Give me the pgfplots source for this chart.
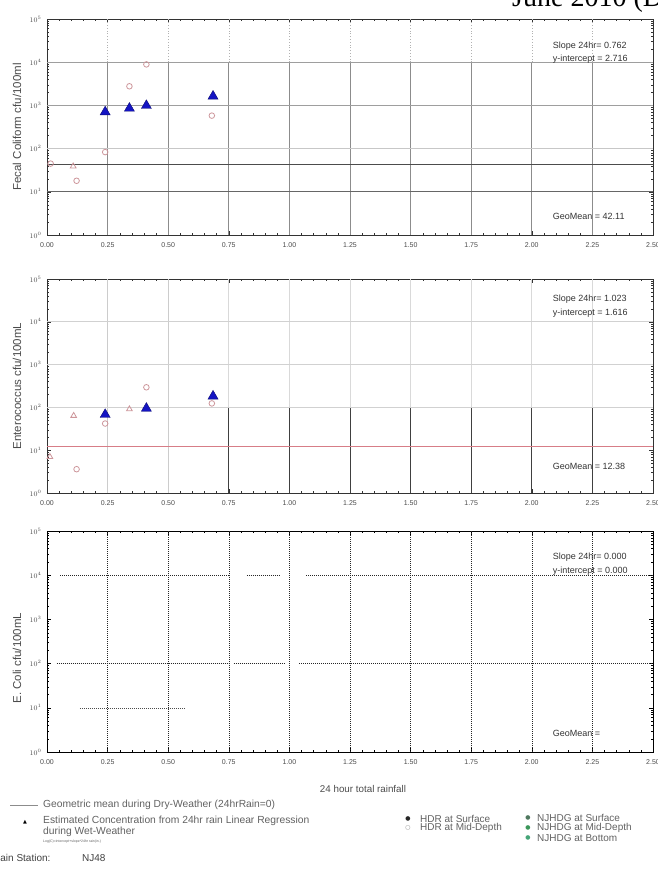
\documentclass[border=0pt]{standalone}
\usepackage{fontspec}
\setmainfont{Liberation Sans}
\newfontfamily\seriffont{Liberation Serif}
\newfontfamily\symfont{DejaVu Sans}
\usepackage{pgfplots}
\pgfplotsset{compat=1.18}

\definecolor{pinkc}{RGB}{205,150,155}
\definecolor{bluet}{RGB}{20,20,195}
\definecolor{redg}{RGB}{215,125,135}
\definecolor{txtg}{RGB}{75,75,75}
\definecolor{greenA}{RGB}{80,120,95}
\definecolor{greenB}{RGB}{60,150,90}
\definecolor{greenC}{RGB}{70,165,120}

\pgfplotsset{
 mypanel/.style={
  scale only axis, width=606pt, anchor=south west,
  xmin=0, xmax=2.5,
  xtick={0,0.25,0.5,0.75,1,1.25,1.5,1.75,2,2.25,2.5},
  xticklabels={0.00,0.25,0.50,0.75,1.00,1.25,1.50,1.75,2.00,2.25,2.50},
  minor x tick num=4,
  ytick={1,10,100,1000,10000,100000},
  tick align=inside,
  major tick length=4pt, minor tick length=2pt,
  every tick/.style={black!80, line width=0.4pt},
  axis line style={black!80, line width=0.6pt},
  x tick label style={font=\fontsize{7}{7}\selectfont, text=txtg, yshift=-4pt},
  y tick label style={font=\fontsize{7}{7}\selectfont, text=txtg, xshift=-2pt},
 },
 ylab/.style={every axis y label/.style={at={(axis description cs:-0.0495,#1)}, rotate=90, anchor=center,
   font=\fontsize{11.5}{11.5}\selectfont, text=txtg}},
 bluetri/.style={only marks, mark=triangle*, mark size=5.8pt, mark options={fill=bluet, draw=bluet!60!black, line width=0.4pt}},
 pinko/.style={only marks, mark=o, mark size=2.8pt, mark options={draw=pinkc, line width=0.8pt}},
 pinkt/.style={only marks, mark=triangle, mark size=3.3pt, mark options={draw=pinkc, line width=0.8pt}},
}

\begin{document}
\begin{tikzpicture}
% ---------------- Panel 1: Fecal Coliform ----------------
\begin{axis}[ymode=log, ymin=1, ymax=1e5, mypanel, height=216pt, at={(47pt,-235pt)},
  ylabel={Fecal Coliform cfu/100ml}, ylab=0.5]
\pgfplotsinvokeforeach{0.25,0.5,0.75,1,1.25,1.5,1.75,2,2.25}{
  \draw[black!45, line width=0.8pt] (axis cs:#1,1) -- (axis cs:#1,1e4);
  \draw[black!30, dash pattern=on 0.8pt off 2pt] (axis cs:#1,1e4) -- (axis cs:#1,1e5);
}
\draw[black!60, line width=0.9pt] (axis cs:0,10) -- (axis cs:2.5,10);
\draw[black!22, line width=0.8pt] (axis cs:0,100) -- (axis cs:2.5,100);
\draw[black!38, line width=0.8pt] (axis cs:0,1000) -- (axis cs:2.5,1000);
\draw[black!38, line width=0.8pt] (axis cs:0,10000) -- (axis cs:2.5,10000);
\addplot[black!70, line width=1.3pt] coordinates {(0,42.11) (2.5,42.11)};
\addplot[pinko] coordinates {(0.015,45) (0.122,18) (0.24,83) (0.34,2770) (0.41,8900) (0.68,580)};
\addplot[pinkt] coordinates {(0.108,39)};
\addplot[bluetri] coordinates {(0.24,705) (0.34,855) (0.41,990) (0.685,1630)};
\end{axis}

% ---------------- Panel 2: Enterococcus ----------------
\begin{axis}[ymode=log, ymin=1, ymax=1e5, mypanel, height=214pt, at={(47pt,-493pt)},
  ylabel={Enterococcus cfu/100mL}, ylab=0.5]
\pgfplotsinvokeforeach{0.25,0.5}{
  \draw[black!20, line width=0.7pt] (axis cs:#1,1) -- (axis cs:#1,1e5);
}
\pgfplotsinvokeforeach{0.75,1,1.25,1.5,1.75,2,2.25}{
  \draw[black!15, line width=0.7pt] (axis cs:#1,100) -- (axis cs:#1,1e5);
  \draw[black!75, line width=0.9pt] (axis cs:#1,1) -- (axis cs:#1,100);
}
\draw[black!18, line width=0.8pt] (axis cs:0,100) -- (axis cs:2.5,100);
\draw[black!18, line width=0.8pt] (axis cs:0,1000) -- (axis cs:2.5,1000);
\draw[black!18, line width=0.8pt] (axis cs:0,10000) -- (axis cs:2.5,10000);
\addplot[redg, line width=1pt] coordinates {(0,12.38) (2.5,12.38)};
\addplot[pinko] coordinates {(0.24,42) (0.41,295) (0.68,124) (0.122,3.6)};
\addplot[pinkt] coordinates {(0.11,64) (0.34,91) (0.012,7)};
\addplot[bluetri] coordinates {(0.24,68) (0.41,95) (0.685,183)};
\end{axis}

% ---------------- Panel 3: E. Coli ----------------
\begin{axis}[ymode=log, ymin=1, ymax=1e5, mypanel, height=221pt, at={(47pt,-752pt)},
  ylabel={E. Coli cfu/100mL}, ylab=0.425,
  axis line style={black, line width=0.6pt}, every tick/.style={black, line width=0.4pt}]
\pgfplotsinvokeforeach{0.25,0.5,0.75,1,1.25,1.5,1.75,2,2.25}{
  \draw[black!85, line width=0.55pt, dash pattern=on 0.8pt off 1.2pt] (axis cs:#1,1) -- (axis cs:#1,1e5);
}
\draw[black!85, line width=0.55pt, dash pattern=on 0.8pt off 1.2pt] (axis cs:0.055,10000) -- (axis cs:0.755,10000);
\draw[black!85, line width=0.55pt, dash pattern=on 0.8pt off 1.2pt] (axis cs:0.825,10000) -- (axis cs:0.96,10000);
\draw[black!85, line width=0.55pt, dash pattern=on 0.8pt off 1.2pt] (axis cs:1.07,10000) -- (axis cs:2.5,10000);
\draw[black!85, line width=0.55pt, dash pattern=on 0.8pt off 1.2pt] (axis cs:0.04,100) -- (axis cs:0.75,100);
\draw[black!85, line width=0.55pt, dash pattern=on 0.8pt off 1.2pt] (axis cs:0.77,100) -- (axis cs:0.98,100);
\draw[black!85, line width=0.55pt, dash pattern=on 0.8pt off 1.2pt] (axis cs:1.04,100) -- (axis cs:2.5,100);
\draw[black!70, line width=0.5pt, dash pattern=on 0.8pt off 1.2pt] (axis cs:0.136,10) -- (axis cs:0.57,10);
\end{axis}

% ---------------- Texts ----------------
\node[anchor=base west, font=\seriffont\fontsize{28}{28}\selectfont, inner sep=0pt] at (512pt,-6.5pt) {June 2010 (D};

\begin{scope}[every node/.style={anchor=west, font=\fontsize{9}{9}\selectfont, text=black!80, inner sep=0pt}]
\node at (552.7pt,-45.7pt) {Slope 24hr= 0.762};
\node at (552.7pt,-59pt) {y-intercept = 2.716};
\node at (552.7pt,-216.7pt) {GeoMean = 42.11};
\node at (552.7pt,-299.3pt) {Slope 24hr= 1.023};
\node at (552.7pt,-312.7pt) {y-intercept = 1.616};
\node at (552.7pt,-466.7pt) {GeoMean = 12.38};
\node at (552.7pt,-556.7pt) {Slope 24hr= 0.000};
\node at (552.7pt,-570.7pt) {y-intercept = 0.000};
\node at (552.7pt,-733.3pt) {GeoMean =};
\end{scope}

\node[font=\fontsize{9.8}{9.8}\selectfont, text=txtg] at (363pt,-789pt) {24 hour total rainfall};

% ---------------- Legend ----------------
\draw[black!45, line width=0.8pt] (10pt,-805pt) -- (38pt,-805pt);
\begin{scope}[every node/.style={anchor=west, font=\fontsize{10.3}{10.3}\selectfont, text=black!62, inner sep=0pt}]
\node at (43pt,-805pt) {Geometric mean during Dry-Weather (24hrRain=0)};
\node at (43pt,-820.5pt) {Estimated Concentration from 24hr rain Linear Regression};
\node at (43pt,-832pt) {during Wet-Weather};
\node[font=\fontsize{3.5}{3.5}\selectfont] at (43pt,-841.5pt) {Log(C)=intercept+slope*24hr rain(in.)};
\end{scope}
\begin{scope}[every node/.style={anchor=west, font=\fontsize{10}{10}\selectfont, text=black!62, inner sep=0pt}]
\node at (420pt,-819pt) {HDR at Surface};
\node at (420pt,-828.3pt) {HDR at Mid-Depth};
\node at (537pt,-817.7pt) {NJHDG at Surface};
\node at (537pt,-827.7pt) {NJHDG at Mid-Depth};
\node at (537pt,-837.7pt) {NJHDG at Bottom};
\node[text=black!75] at (-7pt,-858pt) {Rain Station:};
\node[text=black!75] at (82pt,-858pt) {NJ48};
\end{scope}
\node[font=\symfont\fontsize{5}{5}\selectfont, text=black, inner sep=0pt] at (25pt,-821.7pt) {▲};
\node[font=\symfont\fontsize{6}{6}\selectfont, text=black!85, inner sep=0pt] at (408pt,-819pt) {●};
\node[font=\symfont\fontsize{6}{6}\selectfont, text=black!45, inner sep=0pt] at (408pt,-828.3pt) {○};
\node[font=\symfont\fontsize{6}{6}\selectfont, text=greenA, inner sep=0pt] at (528pt,-817.7pt) {●};
\node[font=\symfont\fontsize{6}{6}\selectfont, text=greenB, inner sep=0pt] at (528pt,-827.7pt) {●};
\node[font=\symfont\fontsize{6}{6}\selectfont, text=greenC, inner sep=0pt] at (528pt,-837.7pt) {●};

\pgfresetboundingbox
\path[use as bounding box] (0pt,0pt) rectangle (658pt,-871pt);
\end{tikzpicture}
\end{document}
